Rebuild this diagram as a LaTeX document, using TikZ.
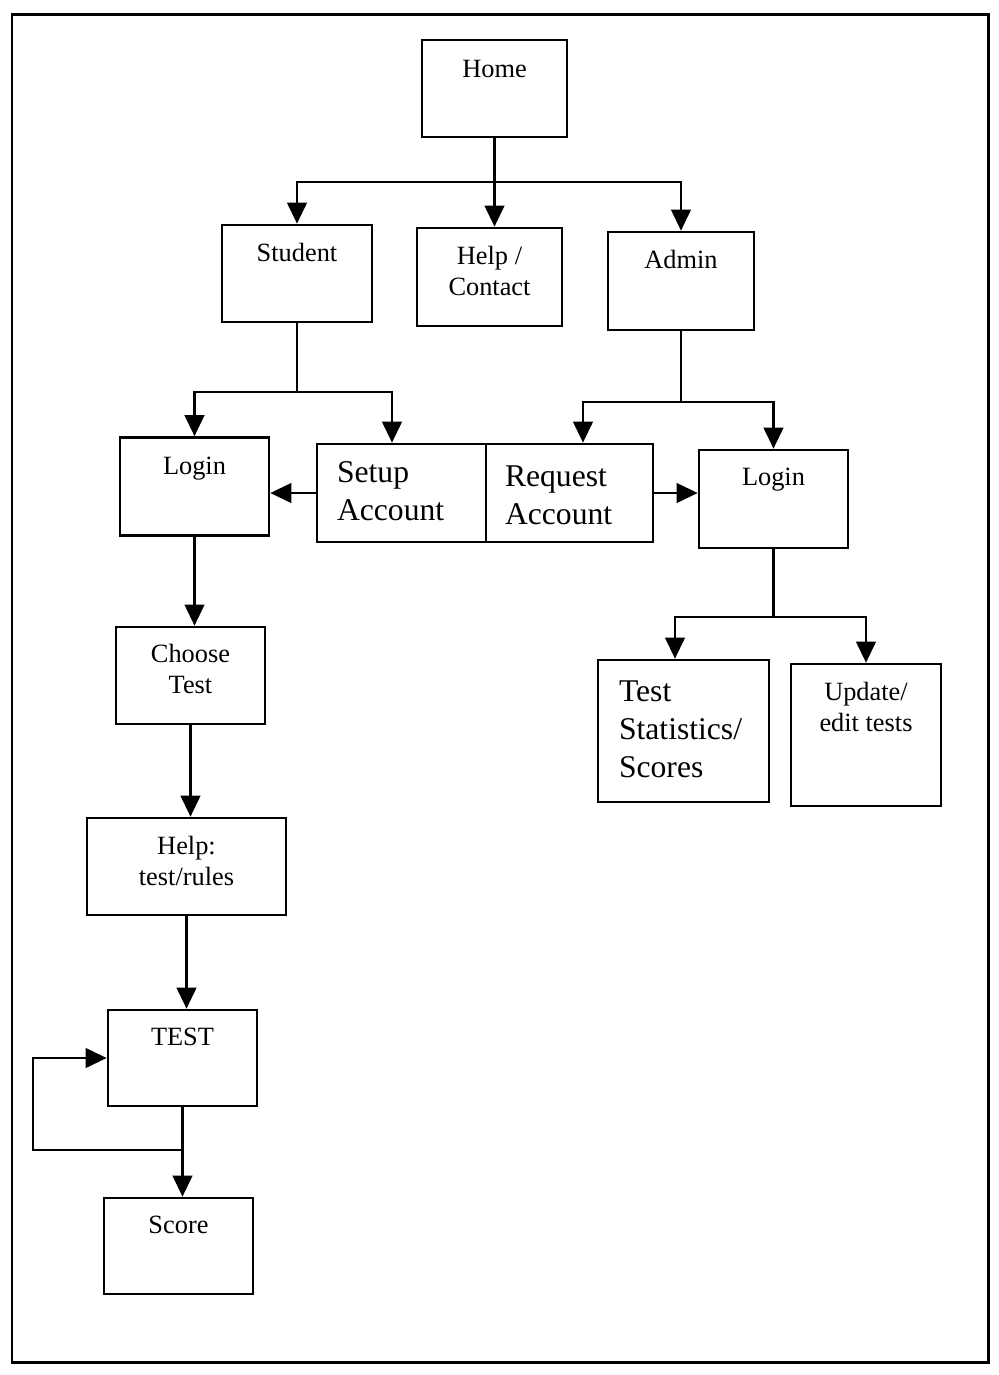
\documentclass[tikz,border=0pt]{standalone}
\usepackage{fontspec}
\setmainfont{Liberation Serif}
\usetikzlibrary{arrows.meta}

\begin{document}
\begin{tikzpicture}[x=0.2mm,y=-0.2mm,
	box/.style={draw,line width=1.5pt,minimum width=29.8mm,minimum height=19.4mm,inner sep=0pt},
	txt/.style={anchor=north,align=center,inner sep=0pt,font=\fontsize{15}{17.6}\selectfont},
	bigtxt/.style={anchor=north west,align=left,inner sep=0pt,font=\fontsize{18}{21.6}\selectfont},
	ln/.style={line width=1.5pt},
	arr/.style={line width=1.5pt,-{Triangle[length=4.2mm,width=3.9mm]}}]
	\useasboundingbox (0,0) rectangle (999,1375);
	\draw[line width=1.7pt] (12,14) rectangle (988,1362);
%%%%%%%%%%%%%%%%%%%%%%%%%%%%%%%%%%%%%%%%%%%%%%%%%%%%%%%%%%%%
	\node[box,minimum width=29mm] (home) at (494.5,88.5) {};
	\node[box,minimum width=30mm] (student) at (297,273.5) {};
	\node[box,minimum width=29mm,minimum height=19.6mm] (help) at (489.5,277) {};
	\node[box,minimum width=29.2mm,minimum height=19.6mm] (admin) at (681,281) {};
	\node[box,minimum height=19.6mm] (loginS) at (194.5,486.5) {};
	\node[box,minimum width=33.8mm,minimum height=19.6mm] (setup) at (401.5,493) {};
	\node[box,minimum width=33.4mm,minimum height=19.6mm] (request) at (569.5,493) {};
	\node[box,minimum height=19.6mm] (loginA) at (773.5,499) {};
	\node[box] (choose) at (190.5,675.5) {};
	\node[box,minimum width=34.2mm,minimum height=28.4mm] (stats) at (683.5,731) {};
	\node[box,minimum width=30mm,minimum height=28.4mm] (update) at (866,735) {};
	\node[box,minimum width=39.8mm] (rules) at (186.5,866.5) {};
	\node[box,minimum height=19.2mm] (test) at (182.5,1058) {};
	\node[box,minimum height=19.2mm] (score) at (178.5,1246) {};
%%%%%%%%%%%%%%%%%%%%%%%%%%%%%%%%%%%%%%%%%%%%%%%%%%%%%%%%%%%%
	\node[txt] (homeT) at ([yshift=-4.2mm]home.north) {Home};
	\node[txt] (studentT) at ([yshift=-3.8mm]student.north) {Student};
	\node[txt] (helpT) at ([yshift=-3.9mm]help.north) {Help /\\Contact};
	\node[txt] (adminT) at ([yshift=-3.9mm]admin.north) {Admin};
	\node[txt] (loginST) at ([yshift=-4.1mm]loginS.north) {Login};
	\node[bigtxt] (setupT) at ([xshift=4.2mm,yshift=-3.8mm]setup.north west) {Setup\\Account};
	\node[bigtxt] (requestT) at ([xshift=4mm,yshift=-4.6mm]request.north west) {Request\\Account};
	\node[txt] (loginAT) at ([yshift=-3.9mm]loginA.north) {Login};
	\node[txt] (chooseT) at ([yshift=-3.7mm]choose.north) {Choose\\Test};
	\node[bigtxt] (statsT) at ([xshift=4.4mm,yshift=-4.3mm]stats.north west) {Test\\Statistics/\\Scores};
	\node[txt] (updateT) at ([yshift=-3.8mm]update.north) {Update/\\edit tests};
	\node[txt] (rulesT) at ([yshift=-3.8mm]rules.north) {Help:\\test/rules};
	\node[txt] (testT) at ([yshift=-3.8mm]test.north) {TEST};
	\node[txt] (scoreT) at ([yshift=-3.8mm]score.north) {Score};
%%%%%%%%%%%%%%%%%%%%%%%%%%%%%%%%%%%%%%%%%%%%%%%%%%%%%%%%%%%%
	\draw[ln] (home.south) -- (home.south |- 0,182) coordinate (hj);
	\draw[arr] (hj) -| (student.north);
	\draw[arr] (hj) -- (hj |- help.north);
	\draw[arr] (hj) -| (admin.north);

	\coordinate (sa) at (392,0 |- setup.north);
	\draw[ln] (student.south) -- (student.south |- 0,392) coordinate (sj);
	\draw[arr] (sj) -| (loginS.north);
	\draw[arr] (sj) -| (sa);

	\coordinate (ra) at (583,0 |- request.north);
	\draw[ln] (admin.south) -- (admin.south |- 0,402) coordinate (aj);
	\draw[arr] (aj) -| (ra);
	\draw[arr] (aj) -| (loginA.north);

	\draw[arr] (setup.west) -- (setup.west -| loginS.east);
	\draw[arr] (request.east) -- (request.east -| loginA.west);

	\coordinate (ta) at (675,0 |- stats.north);
	\draw[ln] (loginA.south) -- (loginA.south |- 0,617) coordinate (lj);
	\draw[arr] (lj) -| (ta);
	\draw[arr] (lj) -| (update.north);
%%%%%%%%%%%%%%%%%%%%%%%%%%%%%%%%%%%%%%%%%%%%%%%%%%%%%%%%%%%%
	\draw[arr] (loginS.south) -- (loginS.south |- choose.north);
	\draw[arr] (choose.south) -- (choose.south |- rules.north);
	\draw[arr] (rules.south) -- (rules.south |- test.north);
	\draw[arr] (test.south) -- (test.south |- score.north);
	\coordinate (tj) at (test.south |- 0,1150);
	\coordinate (lp) at (33,1150);
	\draw[arr] (tj) -- (lp) |- (test.west);
\end{tikzpicture}
\end{document}
